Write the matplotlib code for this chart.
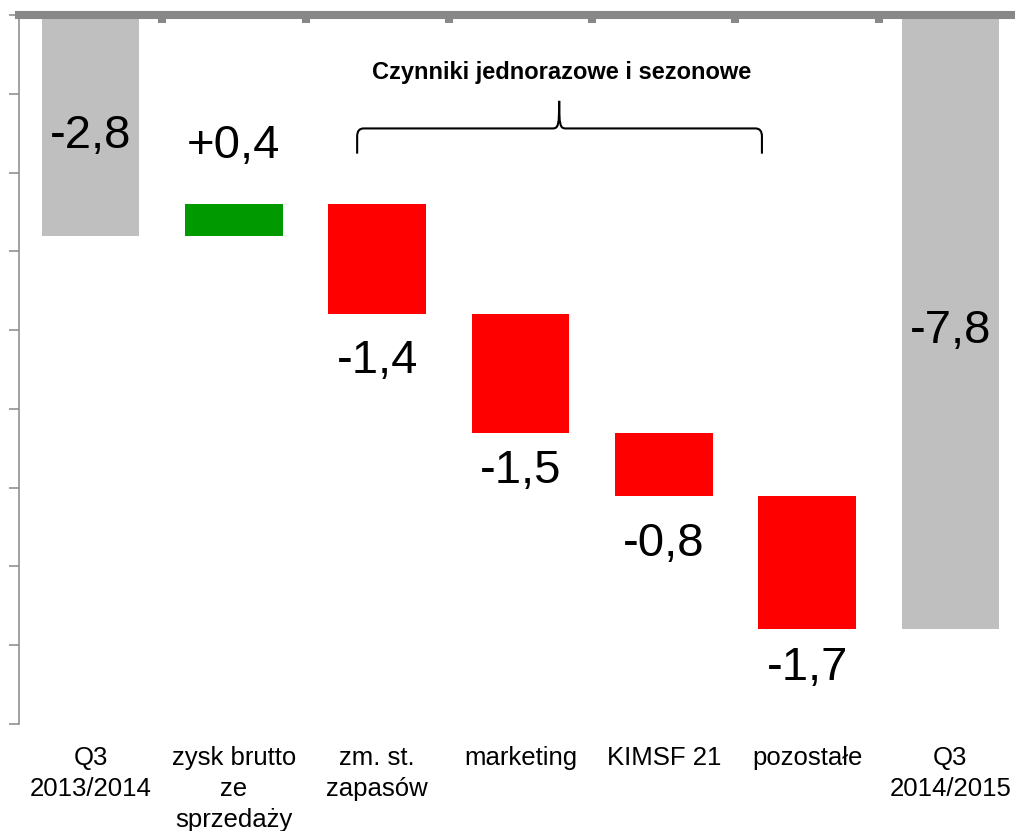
import matplotlib
matplotlib.use("Agg")
import matplotlib.pyplot as plt
from matplotlib.path import Path
from matplotlib.patches import PathPatch
import numpy as np

plt.rcParams['font.family'] = ['Liberation Sans', 'DejaVu Sans']

categories = ["Q3\n2013/2014", "zysk brutto\nze\nsprzedaży", "zm. st.\nzapasów",
              "marketing", "KIMSF 21", "pozostałe", "Q3\n2014/2015"]
changes = [-2.8, 0.4, -1.4, -1.5, -0.8, -1.7, -7.8]
kinds = ["total", "delta", "delta", "delta", "delta", "delta", "total"]
value_labels = ["-2,8", "+0,4", "-1,4", "-1,5", "-0,8", "-1,7", "-7,8"]
bracket_title = "Czynniki jednorazowe i sezonowe"

# label baselines (data units)
label_y = [-1.69, -1.815, -4.54, -5.94, -6.865, -8.44, -4.16]

GREY = "#BFBFBF"
GREEN = "#009900"
RED = "#FF0000"
AXC = "#888888"

fig = plt.figure(figsize=(10.15, 8.31), dpi=100)
W, H = 1015, 831
ax = fig.add_axes([19 / W, (H - 724) / H, 1003 / W, (724 - 15) / H])

x = np.arange(len(categories))
running = 0.0
bottoms, heights, colors = [], [], []
for c, k in zip(changes, kinds):
    if k == "total":
        bottoms.append(0.0)
        heights.append(c)
        colors.append(GREY)
        running = c
    else:
        bottoms.append(running)
        heights.append(c)
        colors.append(GREEN if c > 0 else RED)
        running += c

ax.bar(x, heights, bottom=bottoms, width=0.68, color=colors, zorder=2)

for xi, lab, ly in zip(x, value_labels, label_y):
    ax.text(xi, ly, lab, ha="center", va="baseline", fontsize=34, color="black", zorder=3)

ax.set_xlim(-0.5, len(categories) - 0.5)
ax.set_ylim(-9, 0)

for s in ["right", "bottom"]:
    ax.spines[s].set_visible(False)
ax.spines["top"].set_color(AXC)
ax.spines["top"].set_linewidth(5.8)
ax.spines["top"].set_zorder(4)
ax.spines["left"].set_color(AXC)
ax.spines["left"].set_linewidth(1.1)

ax.set_yticks(np.arange(-9, 1, 1))
ax.tick_params(axis="y", which="major", direction="out", length=7.2, width=1.1,
               color=AXC, labelleft=False)

ax.set_xticks(x)
ax.set_xticklabels(categories, fontsize=18.5, linespacing=1.38)
ax.set_xticks(np.arange(0.5, len(categories) - 0.5, 1), minor=True)
ax.tick_params(axis="x", which="major", bottom=True, top=False, length=0, pad=15.5)
ax.tick_params(axis="x", which="minor", bottom=False, top=True, direction="in",
               length=5.8, width=5.8, color=AXC)

# curly bracket
xl, xr, xm = 1.86, 4.685, 3.27
y_end, y_h, y_tip = -1.76, -1.44, -1.09
dx, dy = 0.045, 0.1
verts = [
    (xl, y_end), (xl, y_h - dy),
    (xl, y_h), (xl + dx, y_h),
    (xm - dx, y_h),
    (xm - 0.005, y_h), (xm, y_h + 0.05), (xm, y_tip),
    (xm, y_h + 0.05), (xm + 0.005, y_h), (xm + dx, y_h),
    (xr - dx, y_h),
    (xr, y_h), (xr, y_h - dy),
    (xr, y_end),
]
codes = [Path.MOVETO, Path.LINETO,
         Path.CURVE3, Path.CURVE3,
         Path.LINETO,
         Path.CURVE4, Path.CURVE4, Path.CURVE4,
         Path.CURVE4, Path.CURVE4, Path.CURVE4,
         Path.LINETO,
         Path.CURVE3, Path.CURVE3,
         Path.LINETO]
ax.add_patch(PathPatch(Path(verts, codes), fill=False, lw=1.5, color="black",
                       capstyle="butt", zorder=3))

ax.text(3.29, -0.81, bracket_title, ha="center", va="baseline",
        fontsize=17, fontweight="bold", color="black")

fig.savefig("out.png", dpi=100)
